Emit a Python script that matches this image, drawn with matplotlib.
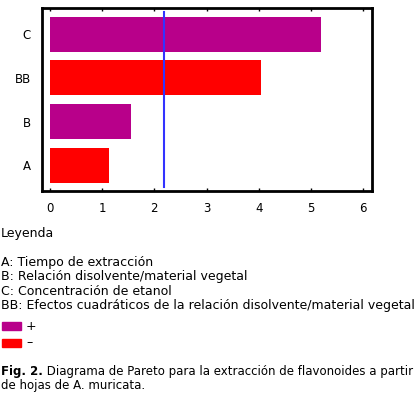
import matplotlib
matplotlib.use("Agg")
import matplotlib.pyplot as plt
from matplotlib.patches import Rectangle

factors = ["A", "B", "BB", "C"]
effects = [1.13, 1.55, 4.04, 5.2]
signs = ["-", "+", "-", "+"]
threshold = 2.18
xticks = [0, 1, 2, 3, 4, 5, 6]
legend_lines = [
    "A: Tiempo de extracción",
    "B: Relación disolvente/material vegetal",
    "C: Concentración de etanol",
    "BB: Efectos cuadráticos de la relación disolvente/material vegetal",
]
caption_bold = "Fig. 2."
caption_rest = " Diagrama de Pareto para la extracción de flavonoides a partir"
caption_line2 = "de hojas de A. muricata."

POS = "#B8008A"
NEG = "#FF0000"
W, H = 420, 396
plt.rcParams['font.family'] = ['DejaVu Sans']
fig = plt.figure(figsize=(W/100, H/100), dpi=100)

def fx(px): return px / W
def fy(py): return 1 - py / H

ax = fig.add_axes([fx(42), fy(191), fx(372) - fx(42), fy(8) - fy(191)])
colors = [POS if s == "+" else NEG for s in signs]
ax.barh(range(len(factors)), effects, height=0.8, color=colors, left=0)
ax.axvline(threshold, ymin=0.02, ymax=0.98, color="#3333FF", lw=1.5)
ax.set_xlim(-0.153, 6.17)
ax.set_ylim(-0.59, 3.6)
ax.set_xticks(xticks)
ax.set_yticks(range(len(factors)))
ax.set_yticklabels(factors)
for s in ax.spines.values():
    s.set_linewidth(2)
    s.set_color("black")
ax.tick_params(axis="x", direction="in", length=2, width=1, top=True, labelsize=8.5, pad=8)
ax.tick_params(axis="y", length=0, labelsize=8.5, pad=8)

fs = 9
fig.text(fx(1), fy(234), "Leyenda", fontsize=fs, va="center", ha="left")
for i, line in enumerate(legend_lines):
    fig.text(fx(1), fy(262.7 + i * 14.2), line, fontsize=fs, va="center", ha="left")

for yy, col, lab in [(326, POS, "+"), (343, NEG, "–")]:
    fig.patches.append(Rectangle((fx(2), fy(yy + 4)), fx(19), fy(yy - 4) - fy(yy + 4),
                                 transform=fig.transFigure, color=col))
    fig.text(fx(26), fy(yy), lab, fontsize=fs, va="center", ha="left")

cfs = 8.5
t = fig.text(fx(1), fy(372), caption_bold, fontsize=cfs, va="center", ha="left", fontweight="bold")
fig.canvas.draw()
bb = t.get_window_extent()
fig.text(bb.x1 / W, fy(372), caption_rest, fontsize=cfs, va="center", ha="left")
fig.text(fx(1), fy(386), caption_line2, fontsize=cfs, va="center", ha="left")

fig.savefig("out.png", dpi=100)
